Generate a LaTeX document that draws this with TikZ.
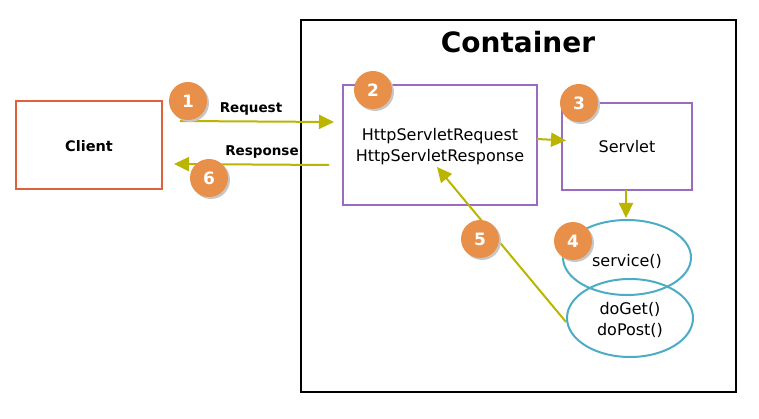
\documentclass[tikz,border=0pt]{standalone}
\usepackage{fontspec}
\setmainfont{DejaVu Sans}
\usetikzlibrary{arrows.meta,shapes.geometric}
\definecolor{arr}{HTML}{BBB400}
\definecolor{purp}{HTML}{9B6BC0}
\definecolor{cli}{HTML}{E0603A}
\definecolor{cyanish}{HTML}{4BACC6}
\definecolor{badge}{HTML}{E8904A}
\tikzset{
  flow/.style={draw=arr,line width=2pt,-{Triangle[length=15pt,width=14pt]}},
  txt/.style={font=\fontsize{16}{20.5}\selectfont},
  btxt/.style={font=\fontsize{13.5}{16}\selectfont\bfseries},
  num/.style={circle,fill=badge,minimum size=38pt,inner sep=0pt,text=white,font=\fontsize{17}{18}\selectfont\bfseries},
  shad/.style={circle,fill=black!22,minimum size=38pt,inner sep=0pt},
}
\begin{document}
\begin{tikzpicture}[x=1pt,y=-1pt]
\useasboundingbox (0,0) rectangle (759,419);
% container
\draw[line width=2pt] (301,20) rectangle (736,392);
\node[font=\fontsize{28}{30}\selectfont\bfseries] (ctitle) at (518,42) {Container};
% client
\draw[cli,line width=2pt] (16,101) rectangle (162,189);
\node[font=\fontsize{14.5}{16}\selectfont\bfseries] (client) at (89,146) {Client};
% req box
\draw[purp,line width=2pt] (343,85) rectangle (537,205);
\node[txt,align=center] (req) at (440,146.5) {HttpServletRequest\\HttpServletResponse};
% servlet
\draw[purp,line width=2pt] (562,103) rectangle (692,190);
\node[txt] (servlet) at (627,147) {Servlet};
% ellipses
\draw[cyanish,line width=2pt] (630,318) ellipse [x radius=63, y radius=39];
\draw[cyanish,line width=2pt] (627,257.5) ellipse [x radius=64, y radius=37.5];
\node[txt] (service) at (627,261) {service()};
\node[txt,align=center] (doget) at (630,320) {doGet()\\doPost()};
% arrows
\coordinate (a1s) at (180,121);
\coordinate (a1e) at (334,122);
\coordinate (a6s) at (329,165);
\coordinate (a6e) at (174,164);
\coordinate (a2s) at (537,139);
\coordinate (a2e) at (566,140.5);
\coordinate (a3s) at (626,190);
\coordinate (a3e) at (626,218);
\coordinate (a5s) at (566,322);
\coordinate (a5e) at (437,167);
\draw[flow] (a1s) -- (a1e);
\draw[flow] (a6s) -- (a6e);
\draw[flow] (a2s) -- (a2e);
\draw[flow] (a3s) -- (a3e);
\draw[flow] (a5s) -- (a5e);
\node[btxt] (lreq) at (251,109) {Request};
\node[btxt] (lres) at (262,152) {Response};
% badges
\foreach \n/\x/\y in {1/188/101,2/373/90,3/579/103,4/573/241,5/480/239,6/209/178}{
  \node[shad] at (\x+2,\y+2) {};
  \node[num] (b\n) at (\x,\y) {\n};
}
\end{tikzpicture}
\end{document}
